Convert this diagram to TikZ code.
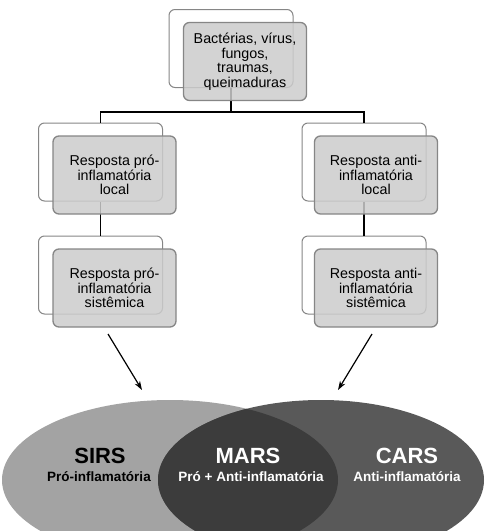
\documentclass[tikz,border=0pt]{standalone}
\usepackage{fontspec}
\setmainfont{Liberation Sans}
\usetikzlibrary{arrows.meta}

\definecolor{sirsgray}{HTML}{A3A3A3}
\definecolor{carsgray}{HTML}{595959}
\definecolor{marsgray}{HTML}{3C3C3C}

\newcommand{\colL}{100.5}
\newcommand{\colR}{364}

\begin{document}
\begin{tikzpicture}[x=1pt, y=-1pt,
  backbox/.style={draw=gray!95, line width=1pt, fill=white, rounded corners=6pt,
                  minimum width=124pt, minimum height=78pt, inner sep=0pt},
  frontbox/.style={draw=gray!95, line width=1.3pt, fill=gray!40, fill opacity=0.85,
                   text opacity=1, rounded corners=6pt, minimum width=123pt,
                   minimum height=78pt, inner sep=0pt, align=center,
                   font=\fontsize{14.3}{14.5}\selectfont},
  bigtext/.style={anchor=base, font=\fontsize{22}{22}\selectfont\bfseries},
  smalltext/.style={anchor=base, font=\fontsize{13.5}{14}\selectfont\bfseries},
  link/.style={line width=1.2pt},
  arr/.style={line width=1.2pt, -{Stealth[length=9pt, width=6pt]}},
]
  \useasboundingbox (0,0) rectangle (485,531);

  % boxes

  %% back frames
  \node[backbox] (topb) at (231,48.5) {};
  \node[backbox] (l1b) at (\colL,162) {};
  \node[backbox] (l2b) at (\colL,275) {};
  \node[backbox] (r1b) at (\colR,162) {};
  \node[backbox] (r2b) at (\colR,275) {};

  %% connectors
  \coordinate (split) at (231,112);
  \draw[link] (topb.south) -- (split);
  \draw[link] (l1b.north) |- (split) -| (r1b.north);
  \draw[link] (l1b.south) -- (l2b.north);
  \draw[link] (r1b.south) -- (r2b.north);

  %% front boxes
  \node[frontbox] (topf) at (245,61.5) {Bactérias, vírus,\\fungos,\\traumas,\\queimaduras};
  \node[frontbox] (l1f) at (114.5,175) {Resposta pró-\\inflamatória\\local};
  \node[frontbox] (l2f) at (114.5,288) {Resposta pró-\\inflamatória\\sistêmica};
  \node[frontbox] (r1f) at (376,175) {Resposta anti-\\inflamatória\\local};
  \node[frontbox] (r2f) at (376,288) {Resposta anti-\\inflamatória\\sistêmica};

  %%%%%%%%%%%%%%%
  % ellipses
  \begin{scope}
    \clip (0,0) rectangle (485,531);
    \fill[sirsgray] (170,480) ellipse [x radius=168pt, y radius=80pt];
    \fill[carsgray] (321,480) ellipse [x radius=163pt, y radius=80pt];
    \begin{scope}
      \clip (170,480) ellipse [x radius=168pt, y radius=80pt];
      \fill[marsgray] (321,480) ellipse [x radius=163pt, y radius=80pt];
    \end{scope}
  \end{scope}

  %% labels
  \node[bigtext] (sirs) at (100,463) {SIRS};
  \node[smalltext] (sirssub) at (99,481) {Pró-inflamatória};
  \node[bigtext, white] (mars) at (248,463) {MARS};
  \node[smalltext, white] (marssub) at (251,481) {Pró + Anti-inflamatória};
  \node[bigtext, white] (cars) at (407,463) {CARS};
  \node[smalltext, white] (carssub) at (407,481) {Anti-inflamatória};

  %% arrows
  \coordinate (lstart) at (108,334);
  \coordinate (lend) at (142,390);
  \coordinate (rstart) at (372,334);
  \coordinate (rend) at (338,390);
  \draw[arr] (lstart) -- (lend);
  \draw[arr] (rstart) -- (rend);

\end{tikzpicture}
\end{document}
